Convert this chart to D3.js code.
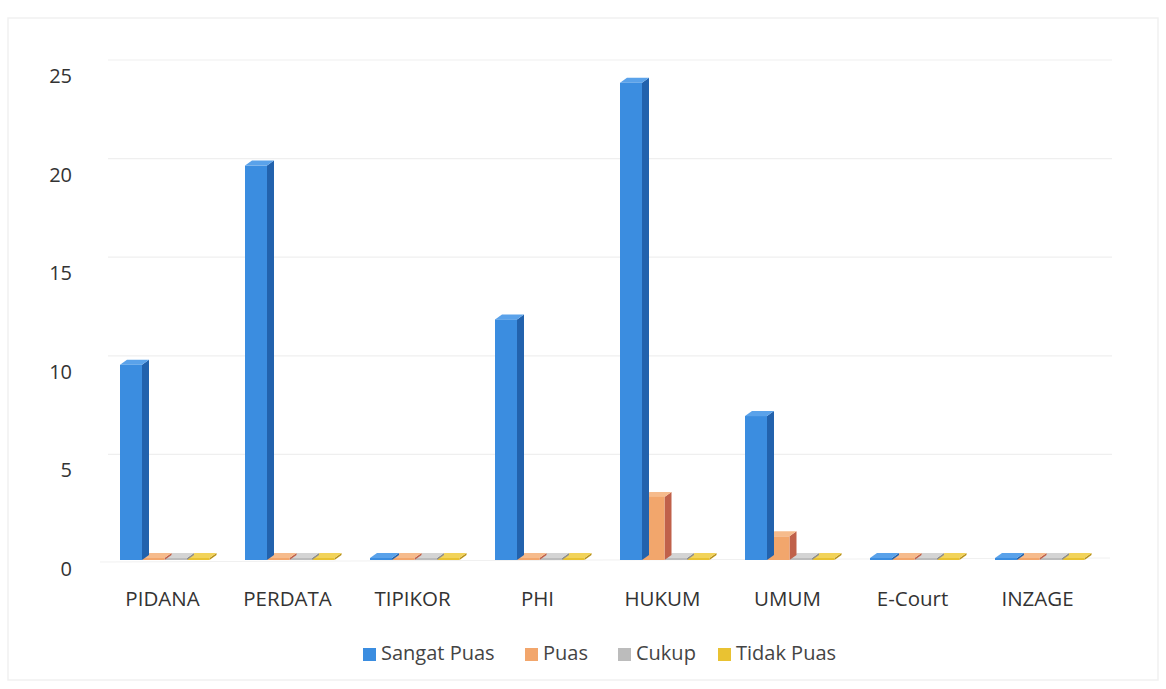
<!DOCTYPE html>
<html>
<head>
<meta charset="utf-8">
<script src="https://cdn.jsdelivr.net/npm/d3@7"></script>
<style>
  body { margin: 0; background: #fff; }
  svg { display: block; font-family: "Open Sans", sans-serif; }
</style>
</head>
<body>
<svg id="chart" width="1166" height="689"></svg>
<script>
// Data
const categories = ["PIDANA", "PERDATA", "TIPIKOR", "PHI", "HUKUM", "UMUM", "E-Court", "INZAGE"];
const seriesNames = ["Sangat Puas", "Puas", "Cukup", "Tidak Puas"];
const sangatPuas = [9.9, 20, 0, 12.2, 24.2, 7.3, 0, 0];
const puas = [0, 0, 0, 0, 3.2, 1.2, 0, 0];
const cukup = [0, 0, 0, 0, 0, 0, 0, 0];
const tidakPuas = [0, 0, 0, 0, 0, 0, 0, 0];
const yTicks = [0, 5, 10, 15, 20, 25];

const seriesValues = [sangatPuas, puas, cukup, tidakPuas];
const fronts = ["#3b8de0", "#f2a66c", "#bcbcbc", "#e9c232"];
const sides = ["#2262ad", "#c0614a", "#8e8e8e", "#b8921c"];
const tops = ["#5aa2ea", "#f6bb8c", "#d4d4d4", "#f2d35a"];

const svg = d3.select("#chart");
const depth = { dx: 7, dy: -5 };

// scales
const x = d3.scaleBand().domain(categories).range([100, 1100]).padding(0);
const y = d3.scaleLinear().domain([0, 25]).range([560, 67]);
const inner = d3.scaleBand().domain(d3.range(4)).range([0, 90]).padding(0);

// scanned frame
svg.append("rect")
    .attr("x", 8).attr("y", 18).attr("width", 1150).attr("height", 662)
    .attr("fill", "none").attr("stroke", "#f1f1f1").attr("stroke-width", 1.5);

// back-wall gridlines
svg.append("g").selectAll("line")
    .data(yTicks.slice(1))
    .enter().append("line")
    .attr("x1", 108).attr("x2", 1112)
    .attr("y1", d => y(d) + depth.dy - 2)
    .attr("y2", d => y(d) + depth.dy - 2)
    .attr("stroke", "#efefef").attr("stroke-width", 1.2);

// floor edge
svg.append("line")
    .attr("x1", 100).attr("x2", 1110)
    .attr("y1", y(0) + 2).attr("y2", y(0) - 2)
    .attr("stroke", "#f0f0f0");

// y axis labels
svg.append("g").selectAll("text")
    .data(yTicks)
    .enter().append("text")
    .attr("x", 72)
    .attr("y", d => y(d) + 16)
    .attr("text-anchor", "end")
    .attr("font-size", 20)
    .attr("fill", "#333")
    .text(d => d);

// bars drawn back-to-front so the side faces overlap right
const bars = [];
categories.forEach((c, i) => {
    seriesValues.forEach((vals, s) => {
        bars.push({ cat: c, s: s, v: vals[i] });
    });
});

const gBars = svg.append("g");
bars.slice().reverse().forEach(d => {
    const x0 = x(d.cat) + 20 + inner(d.s);
    const w = inner.bandwidth() - 0.5;
    const y0 = y(0);
    let y1 = y(d.v);
    if (y0 - y1 < 2) y1 = y0 - 2;
    const g = gBars.append("g");
    // side face
    g.append("path")
        .attr("d", `M${x0 + w},${y1} L${x0 + w + depth.dx},${y1 + depth.dy} L${x0 + w + depth.dx},${y0 + depth.dy} L${x0 + w},${y0} Z`)
        .attr("fill", sides[d.s]);
    // top face
    g.append("path")
        .attr("d", `M${x0},${y1} L${x0 + depth.dx},${y1 + depth.dy} L${x0 + w + depth.dx},${y1 + depth.dy} L${x0 + w},${y1} Z`)
        .attr("fill", tops[d.s]);
    // front
    g.append("rect")
        .attr("x", x0).attr("y", y1)
        .attr("width", w).attr("height", y0 - y1)
        .attr("fill", fronts[d.s]);
});

// category labels
svg.append("g").selectAll("text")
    .data(categories)
    .enter().append("text")
    .attr("x", d => x(d) + x.bandwidth() / 2)
    .attr("y", 606)
    .attr("text-anchor", "middle")
    .attr("font-size", 20.5)
    .attr("fill", "#333")
    .text(d => d);

// legend
const legendX = [363, 525, 618, 718];
const legend = svg.append("g").selectAll("g")
    .data(seriesNames)
    .enter().append("g")
    .attr("transform", (d, i) => `translate(${legendX[i]},654)`);
legend.append("rect")
    .attr("x", 0).attr("y", -6).attr("width", 13).attr("height", 13)
    .attr("fill", (d, i) => fronts[i]);
legend.append("text")
    .attr("x", 18).attr("y", 6)
    .attr("font-size", 20)
    .attr("fill", "#444")
    .text(d => d);
</script>
</body>
</html>
